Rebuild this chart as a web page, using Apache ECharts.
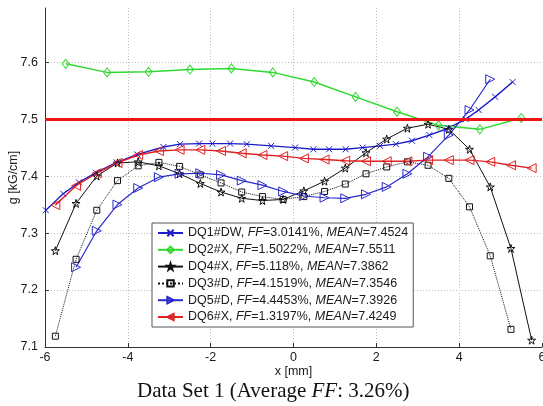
<!DOCTYPE html>
<html>
<head>
<meta charset="utf-8">
<script src="https://cdn.jsdelivr.net/npm/echarts@6/dist/echarts.min.js"></script>
<style>
  html, body { margin: 0; padding: 0; background: #fff; }
  #chart { width: 543px; height: 406px; }
</style>
</head>
<body>
<div id="chart"></div>
<script>
// legend entries
var names = ['DQ1#DW', 'DQ2#X', 'DQ4#X', 'DQ3#D', 'DQ5#D', 'DQ6#X'];
var ffVals = ['3.0141', '1.5022', '5.118', '4.1519', '4.4453', '1.3197'];
var meanVals = ['7.4524', '7.5511', '7.3862', '7.3546', '7.3926', '7.4249'];
var avgFF = '3.26';
var refLevel = 7.5;

// x [mm] and g [kG/cm]
var dq1X = [-5.98, -5.56, -5.18, -4.77, -4.27, -3.77, -3.14, -2.74, -2.28, -1.96, -1.53, -1.13, -0.54, 0.04, 0.48, 0.86, 1.26, 1.67, 2.09, 2.47, 2.86, 3.28, 3.74, 4.16, 4.47, 4.87, 5.29];
var dq1G = [7.340, 7.369, 7.389, 7.406, 7.424, 7.438, 7.451, 7.456, 7.457, 7.457, 7.457, 7.456, 7.453, 7.450, 7.447, 7.447, 7.447, 7.450, 7.453, 7.456, 7.462, 7.472, 7.484, 7.500, 7.516, 7.539, 7.565];

var dq2X = [-5.5, -4.5, -3.5, -2.5, -1.5, -0.5, 0.5, 1.5, 2.5, 3.5, 4.5, 5.5];
var dq2G = [7.597, 7.582, 7.583, 7.587, 7.589, 7.582, 7.565, 7.539, 7.513, 7.489, 7.482, 7.502];

var dq4X = [-5.75, -5.25, -4.75, -4.25, -3.75, -3.25, -2.75, -2.25, -1.75, -1.25, -0.75, -0.25, 0.25, 0.75, 1.25, 1.75, 2.25, 2.75, 3.25, 3.75, 4.25, 4.75, 5.25, 5.75];
var dq4G = [7.269, 7.352, 7.400, 7.423, 7.425, 7.418, 7.404, 7.387, 7.372, 7.361, 7.357, 7.359, 7.374, 7.391, 7.414, 7.441, 7.465, 7.484, 7.491, 7.482, 7.447, 7.381, 7.273, 7.112];

var dq3X = [-5.75, -5.25, -4.75, -4.25, -3.75, -3.25, -2.75, -2.25, -1.75, -1.25, -0.75, -0.25, 0.25, 0.75, 1.25, 1.75, 2.25, 2.75, 3.25, 3.75, 4.25, 4.75, 5.25];
var dq3G = [7.119, 7.254, 7.340, 7.392, 7.418, 7.424, 7.417, 7.402, 7.388, 7.372, 7.364, 7.359, 7.364, 7.373, 7.386, 7.404, 7.416, 7.425, 7.419, 7.396, 7.346, 7.260, 7.131];

var dq5X = [-5.25, -4.75, -4.25, -3.75, -3.25, -2.75, -2.25, -1.75, -1.25, -0.75, -0.25, 0.25, 0.75, 1.25, 1.75, 2.25, 2.75, 3.25, 3.75, 4.25, 4.75];
var dq5G = [7.240, 7.304, 7.350, 7.379, 7.398, 7.404, 7.405, 7.402, 7.392, 7.384, 7.373, 7.365, 7.362, 7.361, 7.368, 7.381, 7.404, 7.434, 7.472, 7.516, 7.570];

var dq6X = [-5.75, -5.25, -4.75, -4.25, -3.75, -3.25, -2.75, -2.25, -1.75, -1.25, -0.75, -0.25, 0.25, 0.75, 1.25, 1.75, 2.25, 2.75, 3.25, 3.75, 4.25, 4.75, 5.25, 5.75];
var dq6G = [7.349, 7.383, 7.405, 7.423, 7.437, 7.444, 7.446, 7.446, 7.444, 7.440, 7.437, 7.435, 7.431, 7.429, 7.427, 7.426, 7.426, 7.426, 7.428, 7.428, 7.428, 7.425, 7.419, 7.414];

function pairs(xs, ys){
  return xs.map(function(x, i){ return [x, ys[i]]; });
}

var symX = 'path://M0,0L10,10M10,0L0,10';
var symStar = 'path://M50,0L61,35L98,35L68,57L79,91L50,70L21,91L32,57L2,35L39,35Z';
var symRight = 'path://M0,0L10,5L0,10Z';
var symLeft = 'path://M10,0L0,5L10,10Z';

function mkSeries(name, data, color, symbol, size, width, type){
  return {
    name: name, type: 'line', data: data,
    symbol: symbol, symbolSize: size, showAllSymbol: true,
    lineStyle: { color: color, width: width, type: type || 'solid' },
    itemStyle: { color: 'rgba(255,255,255,0)', borderColor: color, borderWidth: 1 },
    emphasis: { disabled: true }
  };
}

var s1 = mkSeries(names[0], pairs(dq1X, dq1G), '#1c1cc8', symX, 6, 1.4);
var s2 = mkSeries(names[1], pairs(dq2X, dq2G), '#2fd82f', 'diamond', [7, 9], 1.5);
var s4 = mkSeries(names[2], pairs(dq4X, dq4G), '#111111', symStar, 8, 1);
var s3 = mkSeries(names[3], pairs(dq3X, dq3G), '#111111', 'rect', 6, 1, 'dotted');
var s5 = mkSeries(names[4], pairs(dq5X, dq5G), '#2a2acc', symRight, 9, 1.2);
var s6 = mkSeries(names[5], pairs(dq6X, dq6G), '#e02222', symLeft, 9, 1.4);
s6.markLine = {
  data: [{ yAxis: refLevel }], symbol: ['none', 'none'], silent: true,
  label: { show: false },
  lineStyle: { color: '#ee1515', width: 3, type: 'solid' }
};

var chart = echarts.init(document.getElementById('chart'));
var base = { fontFamily: 'Liberation Sans', fontSize: 12.5, color: '#1a1a1a' };
var option = {
  animation: false,
  backgroundColor: '#fff',
  grid: { left: 45, right: 1, top: 8, bottom: 59, outerBoundsMode: 'none', containLabel: false },
  title: {
    text: '{a|Data Set 1 (Average }{b|FF}{a|: ' + avgFF + '%)}',
    left: 137, top: 381, padding: 0,
    textStyle: {
      fontWeight: 'normal',
      rich: {
        a: { fontFamily: 'Liberation Serif', fontSize: 21, fontWeight: 'normal', color: '#111' },
        b: { fontFamily: 'Liberation Serif', fontSize: 21, fontWeight: 'normal', color: '#111', fontStyle: 'italic' }
      }
    }
  },
  legend: {
    data: names, orient: 'vertical', left: 152, top: 223,
    padding: [3, 5, 3, 5], itemGap: 2.8, itemWidth: 25, itemHeight: 8,
    backgroundColor: '#fff', borderColor: '#555', borderWidth: 1,
    selectedMode: false,
    formatter: function(name){
      var i = names.indexOf(name);
      return '{n|' + name + ', }{i|FF}{n|=' + ffVals[i] + '%, }{i|MEAN}{n|=' + meanVals[i] + '}';
    },
    textStyle: {
      lineHeight: 14,
      rich: {
        n: { fontFamily: 'Liberation Sans', fontSize: 12.5, color: '#1a1a1a', lineHeight: 14 },
        i: { fontFamily: 'Liberation Sans', fontSize: 12.5, color: '#1a1a1a', lineHeight: 14, fontStyle: 'italic' }
      }
    }
  },
  xAxis: {
    type: 'value', min: -6, max: 6, interval: 2,
    name: 'x [mm]', nameLocation: 'middle', nameGap: 18, nameMoveOverlap: false,
    nameTextStyle: base,
    axisLine: { onZero: false, lineStyle: { color: '#333', width: 1 } },
    axisTick: { inside: true, length: 4, lineStyle: { color: '#333' } },
    axisLabel: { fontFamily: 'Liberation Sans', fontSize: 12.5, color: '#1a1a1a', margin: 4 },
    splitLine: { show: true, showMinLine: false, showMaxLine: false, lineStyle: { color: '#bdbdbd', type: [1, 2], width: 1 } }
  },
  yAxis: {
    type: 'value', min: 7.1, max: 7.695, interval: 0.1,
    name: 'g [kG/cm]', nameLocation: 'middle', nameGap: 25, nameMoveOverlap: false,
    nameTextStyle: base,
    axisLine: { show: true, onZero: false, lineStyle: { color: '#333', width: 1 } },
    axisTick: { show: true, inside: true, length: 4, lineStyle: { color: '#333' } },
    axisLabel: { fontFamily: 'Liberation Sans', fontSize: 12.5, color: '#1a1a1a', margin: 7, showMaxLabel: false,
      formatter: function(v){ return v.toFixed(1); } },
    splitLine: { show: true, showMinLine: false, showMaxLine: false, lineStyle: { color: '#bdbdbd', type: [1, 2], width: 1 } }
  },
  series: [s1, s2, s4, s3, s5, s6]
};
chart.setOption(option);
</script>
</body>
</html>
